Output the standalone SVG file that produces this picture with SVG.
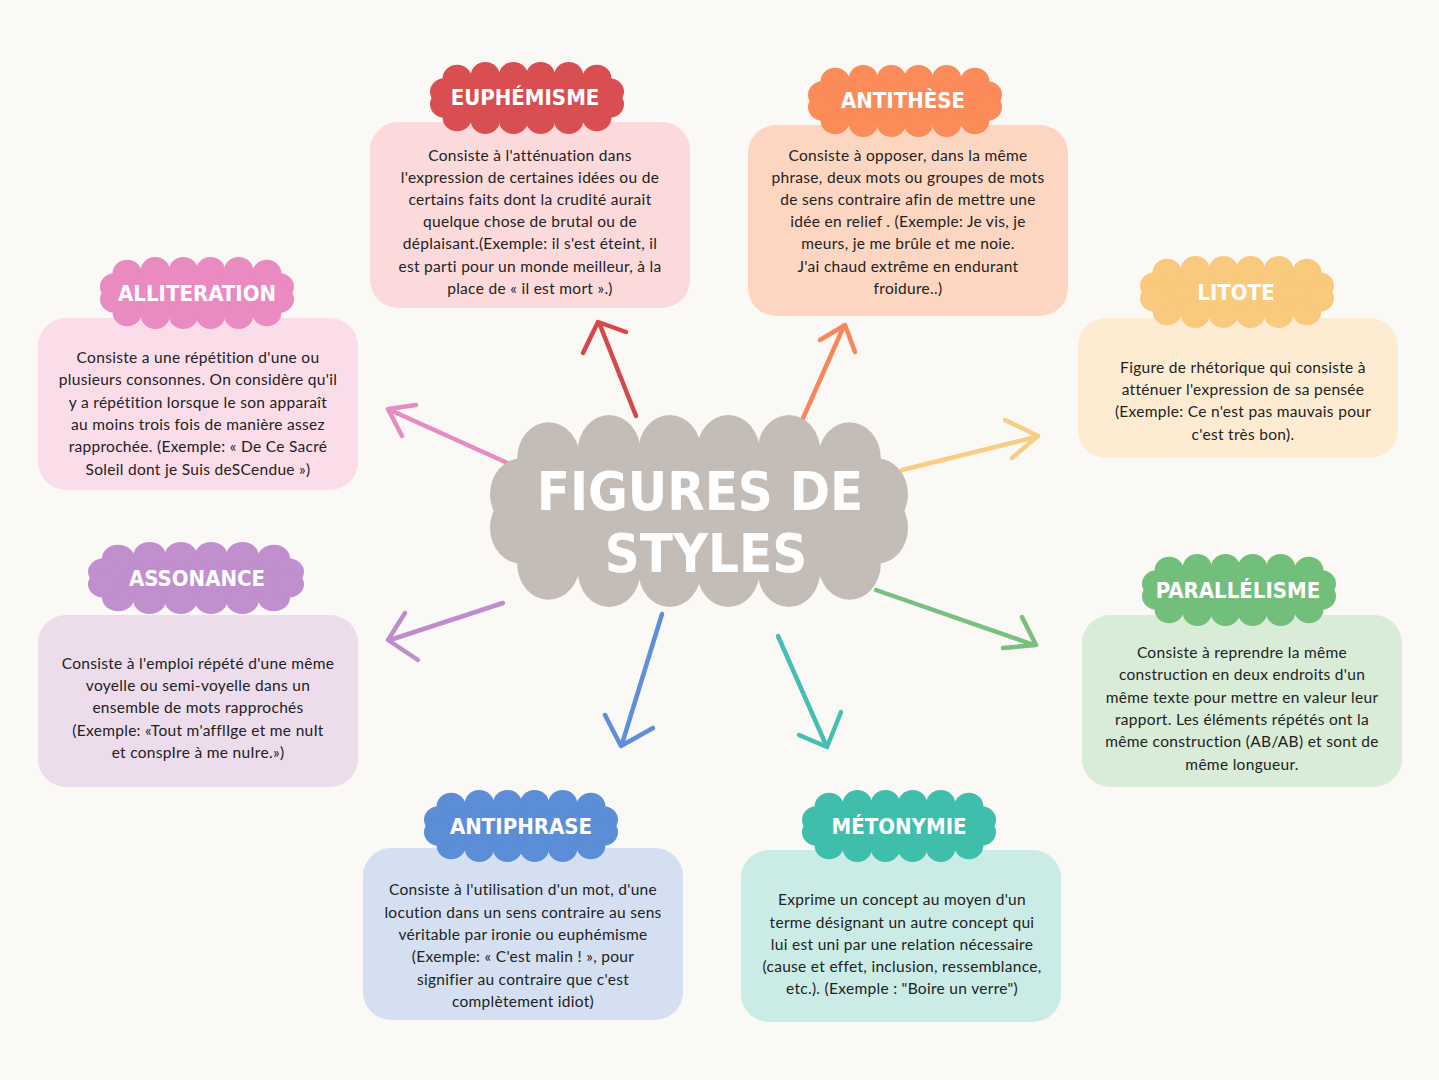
<svg xmlns="http://www.w3.org/2000/svg" width="1439" height="1080" viewBox="0 0 1439 1080">
<style>
.t{font-family:"DejaVu Sans Condensed","DejaVu Sans",sans-serif;font-weight:bold;fill:#fff;font-size:22px;text-anchor:middle}
.b{font-family:Lato,"Open Sans",sans-serif;font-size:15.5px;fill:#222;text-anchor:middle;letter-spacing:0.3px}
.a{fill:none;stroke-width:4.5;stroke-linecap:round;stroke-linejoin:round}
</style>
<defs>
<symbol id="cl" viewBox="0 0 200 80" preserveAspectRatio="none">
<rect x="14" y="14" width="172" height="52" rx="10"/>
<circle cx="28" cy="18" r="15"/><circle cx="57" cy="15" r="15"/><circle cx="86" cy="15" r="15"/><circle cx="114" cy="15" r="15"/><circle cx="143" cy="15" r="15"/><circle cx="172" cy="18" r="15"/>
<circle cx="28" cy="62" r="15"/><circle cx="57" cy="65" r="15"/><circle cx="86" cy="65" r="15"/><circle cx="114" cy="65" r="15"/><circle cx="143" cy="65" r="15"/><circle cx="172" cy="62" r="15"/>
<circle cx="15" cy="33" r="15"/><circle cx="15" cy="47" r="15"/><circle cx="185" cy="33" r="15"/><circle cx="185" cy="47" r="15"/>
</symbol>
</defs>
<rect width="1439" height="1080" fill="#fbf9f6"/>
<g id="connectors">
<path class="a" stroke="#d4484a" d="M636 416 L600 325 M583 353 L598 322 L626 332"/>
<path class="a" stroke="#f7875a" d="M800 425 L843 328 M820 340 L845 325 L855 352"/>
<path class="a" stroke="#f8cd85" d="M902 470 L1036 437 M1005 420 L1038 436 L1012 458"/>
<path class="a" stroke="#79bf7d" d="M876 590 L1034 645 M1022 617 L1036 645 L1003 648"/>
<path class="a" stroke="#45bfb3" d="M778 636 L826 745 M799 735 L827 747 L841 712"/>
<path class="a" stroke="#5f8fd8" d="M662 614 L622 744 M605 715 L621 746 L653 728"/>
<path class="a" stroke="#bb8fcc" d="M503 603 L390 640 M405 613 L388 640 L418 660"/>
<path class="a" stroke="#e78cc0" d="M512 465 L390 410 M416 405 L388 409 L402 436"/>
</g>
<g id="center">
<use href="#cl" x="490" y="415" width="418" height="192" fill="#c4bcb6"/>
<text class="t" style="font-size:54px" x="700" y="510">FIGURES DE</text>
<text class="t" style="font-size:54px" x="706" y="572">STYLES</text>
</g>
<g id="euphemisme">
<rect x="370" y="122" width="320" height="186" rx="28" fill="#fcdadb"/>
<use href="#cl" x="430" y="62" width="194" height="72" fill="#d94e50"/>
<text class="t" x="525" y="105">EUPHÉMISME</text>
<text class="b"><tspan x="530" y="161">Consiste à l'atténuation dans</tspan><tspan x="530" y="183">l'expression de certaines idées ou de</tspan><tspan x="530" y="205">certains faits dont la crudité aurait</tspan><tspan x="530" y="227">quelque chose de brutal ou de</tspan><tspan x="530" y="249">déplaisant.(Exemple: il s'est éteint, il</tspan><tspan x="530" y="272">est parti pour un monde meilleur, à la</tspan><tspan x="530" y="294">place de « il est mort ».)</tspan></text>
</g>
<g id="antithese">
<rect x="748" y="125" width="320" height="191" rx="28" fill="#fdd6c1"/>
<use href="#cl" x="808" y="65" width="194" height="72" fill="#fb8b58"/>
<text class="t" x="903" y="108">ANTITHÈSE</text>
<text class="b"><tspan x="908" y="161">Consiste à opposer, dans la même</tspan><tspan x="908" y="183">phrase, deux mots ou groupes de mots</tspan><tspan x="908" y="205">de sens contraire afin de mettre une</tspan><tspan x="908" y="227">idée en relief . (Exemple: Je vis, je</tspan><tspan x="908" y="249">meurs, je me brûle et me noie.</tspan><tspan x="908" y="272">J'ai chaud extrême en endurant</tspan><tspan x="908" y="294">froidure..)</tspan></text>
</g>
<g id="litote">
<rect x="1078" y="318" width="320" height="140" rx="28" fill="#fdecd2"/>
<use href="#cl" x="1140" y="256" width="194" height="72" fill="#f9c97d"/>
<text class="t" x="1236" y="300">LITOTE</text>
<text class="b"><tspan x="1243" y="373">Figure de rhétorique qui consiste à</tspan><tspan x="1243" y="395">atténuer l'expression de sa pensée</tspan><tspan x="1243" y="417">(Exemple: Ce n'est pas mauvais pour</tspan><tspan x="1243" y="440">c'est très bon).</tspan></text>
</g>
<g id="parallelisme">
<rect x="1082" y="615" width="320" height="172" rx="28" fill="#d9ecd8"/>
<use href="#cl" x="1142" y="554" width="194" height="72" fill="#72be7b"/>
<text class="t" x="1238" y="598">PARALLÉLISME</text>
<text class="b"><tspan x="1242" y="658">Consiste à reprendre la même</tspan><tspan x="1242" y="680">construction en deux endroits d'un</tspan><tspan x="1242" y="703">même texte pour mettre en valeur leur</tspan><tspan x="1242" y="725">rapport. Les éléments répétés ont la</tspan><tspan x="1242" y="747">même construction (AB/AB) et sont de</tspan><tspan x="1242" y="770">même longueur.</tspan></text>
</g>
<g id="metonymie">
<rect x="741" y="850" width="320" height="172" rx="28" fill="#cbece6"/>
<use href="#cl" x="802" y="790" width="194" height="72" fill="#3fbeac"/>
<text class="t" x="899" y="834">MÉTONYMIE</text>
<text class="b"><tspan x="902" y="905">Exprime un concept au moyen d'un</tspan><tspan x="902" y="928">terme désignant un autre concept qui</tspan><tspan x="902" y="950">lui est uni par une relation nécessaire</tspan><tspan x="902" y="972">(cause et effet, inclusion, ressemblance,</tspan><tspan x="902" y="994">etc.). (Exemple : "Boire un verre")</tspan></text>
</g>
<g id="antiphrase">
<rect x="363" y="848" width="320" height="172" rx="28" fill="#d4e0f1"/>
<use href="#cl" x="424" y="790" width="194" height="72" fill="#5b8ed6"/>
<text class="t" x="521" y="834">ANTIPHRASE</text>
<text class="b"><tspan x="523" y="895">Consiste à l'utilisation d'un mot, d'une</tspan><tspan x="523" y="918">locution dans un sens contraire au sens</tspan><tspan x="523" y="940">véritable par ironie ou euphémisme</tspan><tspan x="523" y="962">(Exemple: « C'est malin ! », pour</tspan><tspan x="523" y="985">signifier au contraire que c'est</tspan><tspan x="523" y="1007">complètement idiot)</tspan></text>
</g>
<g id="assonance">
<rect x="38" y="615" width="320" height="172" rx="28" fill="#ecdcec"/>
<use href="#cl" x="88" y="542" width="216" height="72" fill="#c18fcd"/>
<text class="t" x="197" y="586">ASSONANCE</text>
<text class="b"><tspan x="198" y="669">Consiste à l'emploi répété d'une même</tspan><tspan x="198" y="691">voyelle ou semi-voyelle dans un</tspan><tspan x="198" y="713">ensemble de mots rapprochés</tspan><tspan x="198" y="736">(Exemple: «Tout m'afflIge et me nuIt</tspan><tspan x="198" y="758">et conspIre à me nuIre.»)</tspan></text>
</g>
<g id="alliteration">
<rect x="38" y="318" width="320" height="172" rx="28" fill="#fbdde9"/>
<use href="#cl" x="100" y="257" width="194" height="72" fill="#e98bc0"/>
<text class="t" x="197" y="301">ALLITERATION</text>
<text class="b"><tspan x="198" y="363">Consiste a une répétition d'une ou</tspan><tspan x="198" y="385">plusieurs consonnes. On considère qu'il</tspan><tspan x="198" y="408">y a répétition lorsque le son apparaît</tspan><tspan x="198" y="430">au moins trois fois de manière assez</tspan><tspan x="198" y="452">rapprochée. (Exemple: « De Ce Sacré</tspan><tspan x="198" y="475">Soleil dont je Suis deSCendue »)</tspan></text>
</g>
</svg>
